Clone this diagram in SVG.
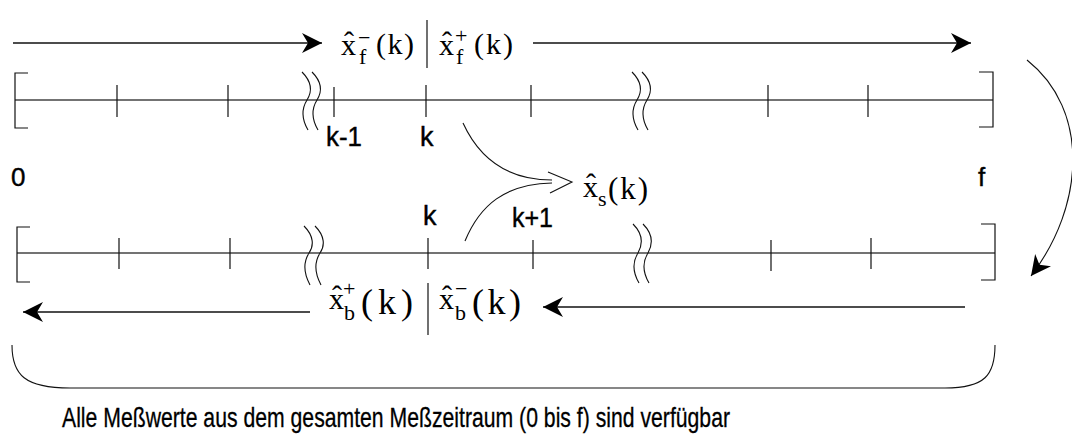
<svg xmlns="http://www.w3.org/2000/svg" width="1072" height="435" viewBox="0 0 1072 435">
<style>
.ln{stroke:#111;stroke-width:1.3;fill:none}
.ax{stroke:#444;stroke-width:1.5;fill:none}
.tk{stroke:#111;stroke-width:1.2;fill:none}
.br{stroke:#111;stroke-width:1.1;fill:none}
.m{font-family:"Liberation Serif","Times New Roman",serif;fill:#000}
.a{font-family:"Liberation Sans",Arial,sans-serif;fill:#000;stroke:#000;stroke-width:0.4}
</style>
<defs>
<marker id="ah" markerUnits="userSpaceOnUse" markerWidth="22" markerHeight="22" refX="20" refY="10" orient="auto">
<path d="M0,0 L20,10 L0,20 L6,10 Z" fill="#000"/>
</marker>
</defs>
<rect width="1072" height="435" fill="#fff"/>

<g id="top-axis">
<line class="ax" x1="15" y1="100" x2="993" y2="100"/>
<path class="tk" d="M28,73 H15 V128 H28"/>
<path class="tk" d="M979,72 H993 V127 H979"/>
<path class="tk" d="M117,85 V117 M228,85 V117 M334,87 V117 M426,85 V117 M531,85 V117 M768,85 V117 M868,85 V117"/>
<path class="br" d="M302,72 C312,82 312,92 307,100 C302,108 301,118 308,130 M312,72 C322,82 322,92 317,100 C312,108 311,118 318,130"/>
<path class="br" d="M632,72 C642,82 642,92 637,100 C632,108 631,118 638,130 M642,72 C652,82 652,92 647,100 C642,108 641,118 648,130"/>
<text class="a" x="326" y="146" font-size="27" textLength="36" lengthAdjust="spacingAndGlyphs">k-1</text>
<text class="a" x="420" y="146" font-size="27">k</text>
</g>

<g id="bottom-axis">
<line class="ax" x1="17" y1="253" x2="995" y2="253"/>
<path class="tk" d="M30,227 H17 V282 H30"/>
<path class="tk" d="M981,224 H995 V280 H981"/>
<path class="tk" d="M119,238 V269 M230,238 V269 M428,238 V269 M533,240 V269 M771,240 V271 M871,238 V269"/>
<path class="br" d="M304,226 C314,236 314,246 309,253 C304,261 303,272 310,285 M315,226 C325,236 325,246 320,253 C315,261 314,272 321,285"/>
<path class="br" d="M633,224 C643,234 643,244 638,253 C633,261 632,271 639,283 M643,224 C653,234 653,244 648,253 C643,261 642,271 649,283"/>
<text class="a" x="423" y="225" font-size="27">k</text>
<text class="a" x="512" y="227" font-size="27" textLength="41" lengthAdjust="spacingAndGlyphs">k+1</text>
</g>

<g id="end-labels">
<text class="a" x="11" y="186" font-size="26">0</text>
<text class="a" x="978" y="186" font-size="26">f</text>
</g>

<g id="label-forward">
<text class="m" x="341" y="55" font-size="30">x</text>
<text class="m" x="344" y="52" font-size="30">ˆ</text>
<text class="m" x="358" y="45" font-size="22">−</text>
<text class="m" x="359" y="64" font-size="22">f</text>
<text class="m" x="376" y="54" font-size="30" textLength="38">(k)</text>
<line class="tk" x1="427" y1="20" x2="427" y2="68"/>
<text class="m" x="439" y="55" font-size="30">x</text>
<text class="m" x="442" y="52" font-size="30">ˆ</text>
<text class="m" x="455" y="43" font-size="22">+</text>
<text class="m" x="456" y="64" font-size="22">f</text>
<text class="m" x="474" y="54" font-size="30" textLength="39">(k)</text>
</g>

<g id="label-backward">
<text class="m" x="329" y="309" font-size="30">x</text>
<text class="m" x="332" y="306" font-size="30">ˆ</text>
<text class="m" x="343" y="296" font-size="22">+</text>
<text class="m" x="344" y="320" font-size="22">b</text>
<text class="m" x="361" y="314" font-size="36" textLength="52">(k)</text>
<line class="tk" x1="428" y1="283" x2="428" y2="335"/>
<text class="m" x="439" y="309" font-size="30">x</text>
<text class="m" x="442" y="306" font-size="30">ˆ</text>
<text class="m" x="455" y="296" font-size="22">−</text>
<text class="m" x="455" y="320" font-size="22">b</text>
<text class="m" x="472" y="314" font-size="36" textLength="49">(k)</text>
</g>

<g id="label-smooth">
<text class="m" x="583" y="197" font-size="30">x</text>
<text class="m" x="586" y="194" font-size="30">ˆ</text>
<text class="m" x="598" y="206" font-size="22">s</text>
<text class="m" x="608" y="199" font-size="31" textLength="40">(k)</text>
</g>

<g id="caption">
<text class="a" x="62" y="427" font-size="28" textLength="668" lengthAdjust="spacingAndGlyphs" style="stroke-width:0.3">Alle Meßwerte aus dem gesamten Meßzeitraum (0 bis f) sind verfügbar</text>
</g>

<g id="connectors">
<line class="ln" x1="13" y1="43" x2="322" y2="43" marker-end="url(#ah)"/>
<line class="ln" x1="533" y1="43" x2="971" y2="43" marker-end="url(#ah)"/>
<line class="ln" x1="310" y1="312" x2="23" y2="312" marker-end="url(#ah)"/>
<line class="ln" x1="965" y1="307" x2="543" y2="307" marker-end="url(#ah)"/>
<path class="br" d="M1027,60 C1090,110 1085,205 1031,276" marker-end="url(#ah)"/>
<path class="br" d="M463,123 C480,160 510,180 552,180"/>
<path class="br" d="M465,241 C480,205 505,184 552,183"/>
<path class="br" d="M548,172 L572,182 L550,193"/>
<path class="br" d="M12,345 C12,375 25,388 70,388 L945,388 C985,388 995,375 995,345"/>
</g>
</svg>
